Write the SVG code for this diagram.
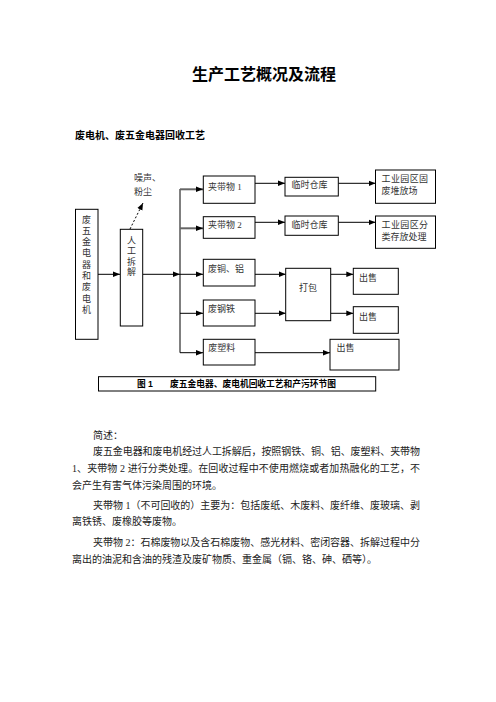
<svg xmlns="http://www.w3.org/2000/svg" width="496" height="702" viewBox="0 0 496 702">
<defs>
<style>
.bx{fill:#fff;stroke:#000;stroke-width:1}
.t{font-family:"Liberation Serif","Noto Sans CJK SC",serif;font-size:9px;fill:#333}
.b{font-family:"Liberation Serif","Noto Sans CJK SC",serif;font-size:10px;fill:#222}
.h{font-family:"Liberation Sans","Noto Sans CJK SC",sans-serif;font-weight:bold;fill:#000}
.ln{fill:none;stroke:#000;stroke-width:1}
.gl{fill:none;stroke:#666;stroke-width:2}
</style>
<marker id="ah" viewBox="0 0 10 10" refX="10" refY="5" markerWidth="7" markerHeight="7" markerUnits="userSpaceOnUse" orient="auto">
<path d="M0,1 L10,5 L0,9 z" fill="#000"/>
</marker>
</defs>
<rect width="496" height="702" fill="#fff"/>
<text class="h" x="264" y="80" font-size="16" text-anchor="middle">生产工艺概况及流程</text>
<text class="h" x="75" y="139" font-size="10">废电机、废五金电器回收工艺</text>

<g id="connectors">
<line class="ln" x1="98" y1="274.3" x2="120" y2="274.3" marker-end="url(#ah)"/>
<line class="ln" x1="143" y1="274.3" x2="180" y2="274.3" marker-end="url(#ah)"/>
<line class="ln" x1="130" y1="229" x2="143" y2="203" stroke-dasharray="2,2" marker-end="url(#ah)"/>
<polyline class="ln" points="180,189 180,352.7 203,352.7" marker-end="url(#ah)"/>
<line class="gl" x1="180" y1="189.3" x2="203" y2="189.3" marker-end="url(#ah)"/>
<line class="gl" x1="180" y1="228.3" x2="203" y2="228.3" marker-end="url(#ah)"/>
<line class="ln" x1="180" y1="274.3" x2="203" y2="274.3" marker-end="url(#ah)"/>
<line class="ln" x1="180" y1="313.3" x2="203" y2="313.3" marker-end="url(#ah)"/>
<line class="ln" x1="255" y1="183.3" x2="285" y2="183.3" marker-end="url(#ah)"/>
<line class="ln" x1="338.3" y1="183.3" x2="375.5" y2="183.3" marker-end="url(#ah)"/>
<line class="ln" x1="255" y1="222.3" x2="285" y2="222.3" marker-end="url(#ah)"/>
<line class="ln" x1="338.3" y1="222.3" x2="375.5" y2="222.3" marker-end="url(#ah)"/>
<line class="ln" x1="255" y1="274.3" x2="285.7" y2="274.3" marker-end="url(#ah)"/>
<line class="ln" x1="255" y1="313.3" x2="285.7" y2="313.3" marker-end="url(#ah)"/>
<line class="ln" x1="330.7" y1="274.3" x2="353.3" y2="274.3" marker-end="url(#ah)"/>
<line class="ln" x1="330.7" y1="313.3" x2="353.3" y2="313.3" marker-end="url(#ah)"/>
<line class="ln" x1="255" y1="352.7" x2="330" y2="352.7" marker-end="url(#ah)"/>
</g>

<g id="src">
<rect class="bx" x="75.5" y="209.3" width="22.5" height="130"/>
<text class="t" x="86.5" text-anchor="middle"><tspan y="222.5">废</tspan><tspan x="86.5" y="233.8">五</tspan><tspan x="86.5" y="245.1">金</tspan><tspan x="86.5" y="256.4">电</tspan><tspan x="86.5" y="267.7">器</tspan><tspan x="86.5" y="279">和</tspan><tspan x="86.5" y="290.3">废</tspan><tspan x="86.5" y="301.6">电</tspan><tspan x="86.5" y="312.9">机</tspan></text>
</g>
<g id="dismantle">
<rect class="bx" x="120.3" y="229.3" width="22.4" height="96.7"/>
<text class="t" x="131.5" text-anchor="middle"><tspan y="243.5">人</tspan><tspan x="131.5" y="254">工</tspan><tspan x="131.5" y="264.5">拆</tspan><tspan x="131.5" y="275">解</tspan></text>
</g>
<g id="noise">
<text class="t" x="134" y="181">噪声、</text>
<text class="t" x="134" y="195">粉尘</text>
</g>
<g id="n1"><rect class="bx" x="203.3" y="176" width="51.7" height="27.3"/><text class="t" x="208" y="190">夹带物 1</text></g>
<g id="n2"><rect class="bx" x="203.3" y="216.7" width="51.7" height="21.6"/><text class="t" x="208" y="228.3">夹带物 2</text></g>
<g id="n3"><rect class="bx" x="203.3" y="259.3" width="51.7" height="26.7"/><text class="t" x="208" y="271.5">废铜、铝</text></g>
<g id="n4"><rect class="bx" x="203.3" y="300" width="51.7" height="26"/><text class="t" x="208" y="311.5">废钢铁</text></g>
<g id="n5"><rect class="bx" x="203.3" y="339.3" width="51.7" height="25.7"/><text class="t" x="208.3" y="350.5">废塑料</text></g>
<g id="w1"><rect class="bx" x="285" y="177.3" width="53.3" height="18.7"/><text class="t" x="291.5" y="188.2">临时仓库</text></g>
<g id="w2"><rect class="bx" x="285" y="216" width="53.3" height="19.3"/><text class="t" x="291.5" y="227.5">临时仓库</text></g>
<g id="p1"><rect class="bx" x="375.5" y="170" width="60" height="33.3"/><text class="t" x="381.5" y="182.3" letter-spacing="0.4">工业园区固</text><text class="t" x="381.5" y="194.3">废堆放场</text></g>
<g id="p2"><rect class="bx" x="375.5" y="216" width="60" height="32.3"/><text class="t" x="381.5" y="228.3" letter-spacing="0.4">工业园区分</text><text class="t" x="381.5" y="240.3">类存放处理</text></g>
<g id="pack"><rect class="bx" x="285.7" y="268.3" width="45" height="52.4"/><text class="t" x="308" y="291" text-anchor="middle">打包</text></g>
<g id="s1"><rect class="bx" x="353.3" y="268.3" width="45" height="26"/><text class="t" x="359" y="280.5">出售</text></g>
<g id="s2"><rect class="bx" x="353.3" y="306.7" width="45" height="26.6"/><text class="t" x="359" y="320">出售</text></g>
<g id="s3"><rect class="bx" x="330" y="339.3" width="69" height="30.7"/><text class="t" x="336.5" y="350.5">出售</text></g>

<g id="caption">
<rect class="bx" x="98.5" y="376.7" width="277.2" height="14.3"/>
<text class="h" x="137" y="387.3" font-size="8.7">图 1</text>
<text class="h" x="170" y="387.3" font-size="8.7" textLength="166" lengthAdjust="spacingAndGlyphs">废五金电器、废电机回收工艺和产污环节图</text>
</g>

<g id="body">
<text class="b" x="93" y="439">简述：</text>
<text class="b" x="93" y="455" textLength="327" lengthAdjust="spacing">废五金电器和废电机经过人工拆解后，按照钢铁、铜、铝、废塑料、夹带物</text>
<text class="b" x="72" y="472" textLength="348" lengthAdjust="spacing">1、夹带物 2 进行分类处理。在回收过程中不使用燃烧或者加热融化的工艺，不</text>
<text class="b" x="72" y="489">会产生有害气体污染周围的环境。</text>
<text class="b" x="93" y="509" textLength="327" lengthAdjust="spacing">夹带物 1（不可回收的）主要为：包括废纸、木废料、废纤维、废玻璃、剥</text>
<text class="b" x="72" y="525">离铁锈、废橡胶等废物。</text>
<text class="b" x="93" y="546" textLength="327" lengthAdjust="spacing">夹带物 2：石棉废物以及含石棉废物、感光材料、密闭容器、拆解过程中分</text>
<text class="b" x="72" y="563">离出的油泥和含油的残渣及废矿物质、重金属（镉、铬、砷、硒等）。</text>
</g>
</svg>
